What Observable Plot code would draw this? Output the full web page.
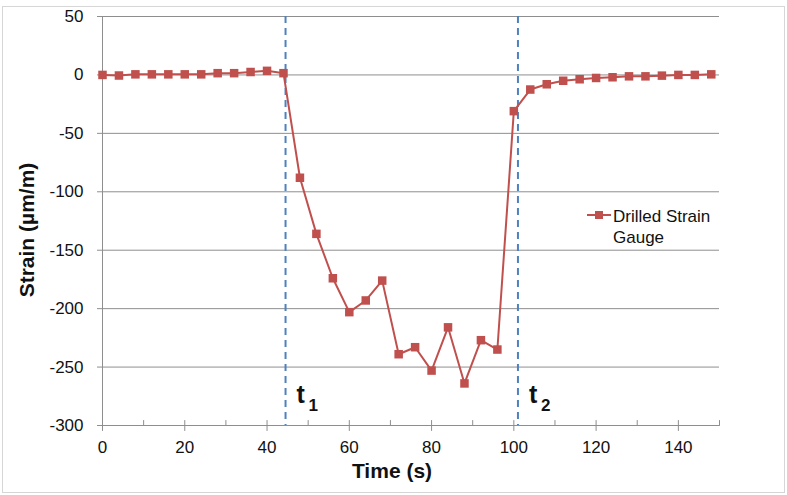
<!DOCTYPE html>
<html><head><meta charset="utf-8">
<script src="https://cdn.jsdelivr.net/npm/d3@7"></script>
<script src="https://cdn.jsdelivr.net/npm/@observablehq/plot@0.6"></script>
<style>
body{margin:0;background:#fff;font-family:"Liberation Sans",Arial,sans-serif;}
#wrap{position:relative;width:787px;height:495px;overflow:hidden;background:#fff;}
#frame{position:absolute;left:2px;top:6px;width:783px;height:487px;border:1px solid #d6d6d6;box-sizing:border-box;pointer-events:none;}
#chart{position:absolute;left:0;top:0;}
.lbl{position:absolute;font-weight:bold;font-size:21px;color:#111;text-align:center;white-space:nowrap;}
#ylab{left:-123px;top:218px;width:300px;line-height:24px;transform:rotate(-90deg);}
#xlab{left:292px;top:459px;width:200px;line-height:24px;}
.leg{position:absolute;font-size:17px;line-height:21px;color:#111;white-space:nowrap;}
#legsym{position:absolute;left:586px;top:209px;}
</style>
</head>
<body>
<div id="wrap">
  <div id="chart"></div>
  <div id="ylab" class="lbl">Strain (µm/m)</div>
  <div id="xlab" class="lbl">Time (s)</div>
  <svg id="legsym" width="26" height="12"><line x1="1" y1="6" x2="25" y2="6" stroke="#c0504d" stroke-width="2"/><rect x="9" y="2" width="8" height="8" fill="#c0504d"/></svg>
  <div class="leg" style="left:613px;top:206px;">Drilled Strain</div>
  <div class="leg" style="left:613px;top:227px;">Gauge</div>
  <div id="frame"></div>
</div>
<script>
const time = [0,4,8,12,16,20,24,28,32,36,40,44,48,52,56,60,64,68,72,76,80,84,88,92,96,100,104,108,112,116,120,124,128,132,136,140,144,148];
const strain = [0,-0.5,0.5,0.5,0.5,0.5,0.5,1.5,1.5,2.5,3.5,1.5,-88,-136,-174,-203,-193,-176,-239,-233,-253,-216,-264,-227,-235,-31,-12.5,-8,-5,-3.7,-2.6,-2,-1.2,-1.2,-0.6,0,0,0.5];
const events = [44.5, 101];
const eventSubs = ["1", "2"];
const yTicks = [50, 0, -50, -100, -150, -200, -250, -300];
const xTicks = [0, 20, 40, 60, 80, 100, 120, 140];
const xMinorTicks = [10, 30, 50, 70, 90, 110, 130, 150];

const data = time.map((t, i) => ({time: t, strain: strain[i]}));
const gridColor = "#8e8e8e";
const tickShape = {draw(context, l) { context.moveTo(0, 0); context.lineTo(0, -l); }};

const chart = Plot.plot({
  width: 787,
  height: 495,
  marginLeft: 102,
  marginRight: 68,
  marginTop: 16,
  marginBottom: 70,
  style: {fontFamily: "'Liberation Sans', Arial, sans-serif", background: "transparent"},
  x: {domain: [0, 150]},
  y: {domain: [-300, 50]},
  marks: [
    Plot.ruleY(yTicks.filter(v => v > -300), {stroke: gridColor, strokeWidth: 1}),
    Plot.ruleY([-300], {stroke: gridColor, strokeWidth: 1}),
    Plot.ruleX([0], {stroke: gridColor, strokeWidth: 1}),
    Plot.axisY({ticks: yTicks, tickSize: 5, tickPadding: 14, fontSize: 17, label: null, stroke: gridColor, fill: "#111", tickFormat: d => String(d)}),
    Plot.axisX({ticks: xTicks, tickSize: 0, tickPadding: 15, fontSize: 17, label: null, fill: "#111", tickFormat: d => String(d)}),
    Plot.vector(xTicks, {x: d => d, y: -300, length: 10, anchor: "middle", shape: tickShape, stroke: gridColor, strokeWidth: 1}),
    Plot.vector(xMinorTicks, {x: d => d, y: -300, length: 5, anchor: "start", shape: tickShape, stroke: gridColor, strokeWidth: 1}),
    Plot.ruleX(events, {x: d => d, stroke: "#4f81bd", strokeWidth: 2, strokeDasharray: "7,5"}),
    Plot.line(data, {x: "time", y: "strain", stroke: "#c0504d", strokeWidth: 2}),
    Plot.dot(data, {x: "time", y: "strain", symbol: "square", r: 4.8, fill: "#c0504d", stroke: "none"}),
    Plot.text(events, {x: d => d, y: -274, text: () => "t", dx: 11, textAnchor: "start", fontSize: 25, fontWeight: "bold", fill: "#111"}),
    Plot.text(events, {x: d => d, y: -283, text: (d, i) => eventSubs[i], dx: 23, textAnchor: "start", fontSize: 17, fontWeight: "bold", fill: "#111"})
  ]
});
document.getElementById("chart").appendChild(chart);
</script>
</body></html>
